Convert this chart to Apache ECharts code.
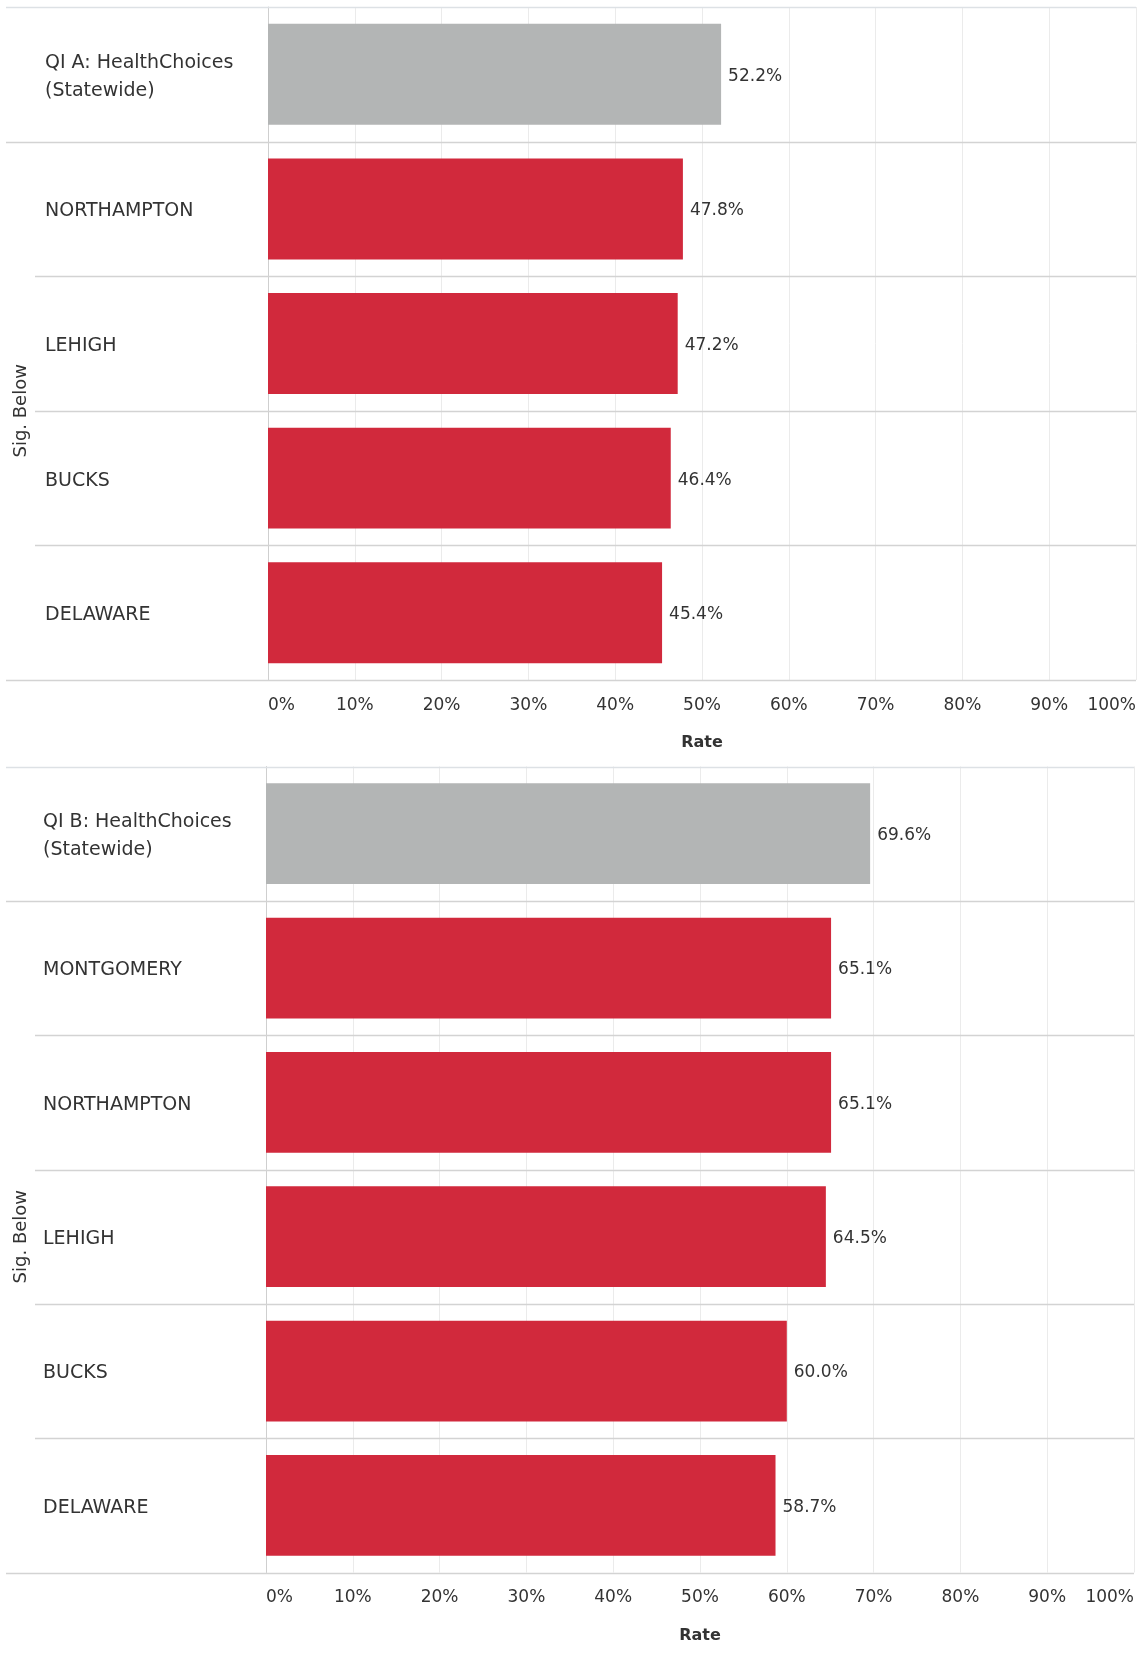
<!DOCTYPE html>
<html><head><meta charset="utf-8">
<script src="https://cdn.jsdelivr.net/npm/echarts@6/dist/echarts.min.js"></script>
<style>html,body{margin:0;padding:0;background:#fff}#c{width:1139px;height:1658px}</style>
</head><body><div id="c"></div>
<script>
const categoriesA = ['QI A: HealthChoices\n(Statewide)', 'NORTHAMPTON', 'LEHIGH', 'BUCKS', 'DELAWARE'];
const valuesA = [52.2, 47.8, 47.2, 46.4, 45.4];
const categoriesB = ['QI B: HealthChoices\n(Statewide)', 'MONTGOMERY', 'NORTHAMPTON', 'LEHIGH', 'BUCKS', 'DELAWARE'];
const valuesB = [69.6, 65.1, 65.1, 64.5, 60.0, 58.7];
const tickMin = 0, tickMax = 100, tickStep = 10;
const groupLabel = 'Sig. Below';
const axisTitle = 'Rate';

const FONT = 'DejaVu Sans';
const GRAY = '#b3b5b5', RED = '#d1293c', TXT = '#333333';
const panels = [
  {cats: categoriesA, vals: valuesA, left: 268, top: 7, width: 868, height: 673, labelX: 45},
  {cats: categoriesB, vals: valuesB, left: 266, top: 766.5, width: 868, height: 806, labelX: 43}
];

const chart = echarts.init(document.getElementById('c'), null, {renderer: 'canvas'});
const grid = [], xAxis = [], yAxis = [], series = [], graphic = [];
panels.forEach((p, i) => {
  grid.push({left: p.left, top: p.top, width: p.width, height: p.height, containLabel: false});
  xAxis.push({
    type: 'value', gridIndex: i, min: tickMin, max: tickMax, interval: tickStep,
    axisLine: {show: false}, axisTick: {show: false},
    splitLine: {show: true, lineStyle: {color: '#ebebeb', width: 1}},
    axisLabel: {formatter: '{value}%', fontFamily: FONT, fontSize: 17, color: TXT, margin: 17,
      alignMinLabel: 'left', alignMaxLabel: 'right'},
    name: axisTitle, nameLocation: 'middle', nameGap: 55,
    nameTextStyle: {fontFamily: FONT, fontSize: 16, fontWeight: 'bold', color: TXT}
  });
  yAxis.push({
    type: 'category', gridIndex: i, inverse: true, data: p.cats,
    axisTick: {show: false},
    axisLine: {show: true, lineStyle: {color: '#cfcfcf', width: 1}},
    splitLine: {show: false},
    axisLabel: {align: 'left', margin: p.left - p.labelX, fontFamily: FONT, fontSize: 19,
      lineHeight: 28, color: TXT,
      formatter: (v) => '{s| }\n' + v,
      rich: {s: {fontSize: 1, lineHeight: 5}}}
  });
  series.push({
    type: 'bar', xAxisIndex: i, yAxisIndex: i, data: p.vals, barCategoryGap: '25%',
    itemStyle: {color: (prm) => prm.dataIndex === 0 ? GRAY : RED},
    label: {show: true, position: 'right', distance: 7, offset: [0, 2], fontFamily: FONT, fontSize: 17, color: TXT,
      formatter: (prm) => prm.value.toFixed(1) + '%'}
  });
  const n = p.cats.length, rowH = p.height / n;
  for (let k = 0; k <= n; k++) {
    const y = Math.round(p.top + k * rowH) + 0.5;
    const x1 = (k <= 1 || k === n) ? 6 : 35;
    graphic.push({type: 'line', silent: true, z: 5,
      shape: {x1: x1, y1: y, x2: p.left + p.width, y2: y},
      style: {stroke: k === 0 ? '#dde1e5' : '#d3d3d3', lineWidth: 1.5}});
  }
  graphic.push({type: 'text', silent: true, x: 21, y: p.top + rowH + (p.height - rowH) / 2,
    rotation: Math.PI / 2,
    style: {text: groupLabel, font: '18px "' + FONT + '"', fill: TXT, align: 'center', verticalAlign: 'middle'}});
});

chart.setOption({animation: false, backgroundColor: '#ffffff', grid, xAxis, yAxis, series, graphic});
</script></body></html>
